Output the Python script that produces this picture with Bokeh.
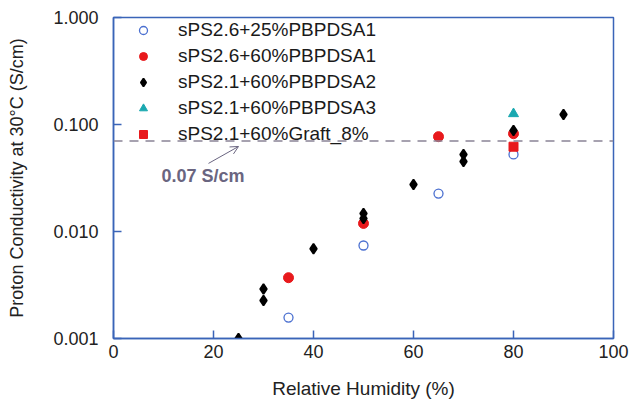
from bokeh.plotting import figure
from bokeh.models import Legend, LegendItem, Span, Label, Arrow, OpenHead, FixedTicker
from bokeh.embed import file_html
from bokeh.resources import INLINE

# Data
rh_25_a1 = [35, 50, 65, 80]
sig_25_a1 = [0.00157, 0.0074, 0.0226, 0.0525]

rh_60_a1 = [35, 50, 65, 80]
sig_60_a1 = [0.0037, 0.0119, 0.077, 0.082]

rh_21_a2 = [25, 30, 30, 40, 50, 50, 60, 70, 70, 80, 90]
sig_21_a2 = [0.001, 0.0029, 0.00226, 0.0069, 0.0147, 0.0132, 0.0275, 0.0525, 0.045, 0.088, 0.124]

rh_21_a3 = [80]
sig_21_a3 = [0.126]

rh_graft = [80]
sig_graft = [0.062]

threshold = 0.07
y_ticks = [0.001, 0.01, 0.1, 1.0]
y_tick_labels = ["0.001", "0.010", "0.100", "1.000"]
x_ticks = [0, 20, 40, 60, 80, 100]

FONT = "Liberation Sans"
BLUE = "#3a64b8"

p = figure(width=631, height=403, x_range=(0, 100), y_range=(0.001, 1.0),
           y_axis_type="log", output_backend="svg", toolbar_location=None,
           min_border_left=113, min_border_right=18, min_border_top=17, min_border_bottom=65)
p.grid.visible = False
p.background_fill_color = "white"
p.outline_line_color = BLUE
p.outline_line_width = 1.5

r1 = p.scatter(rh_25_a1, sig_25_a1, marker="circle", size=9, fill_color="white",
               line_color="#4a6fd0", line_width=1.3)
r2 = p.scatter(rh_60_a1, sig_60_a1, marker="circle", size=10, fill_color="#e8191c",
               line_color="#e8191c")
r3 = p.scatter(rh_21_a2, sig_21_a2, marker="diamond", size=10, fill_color="black",
               line_color="black", line_width=1.8)
r4 = p.scatter(rh_21_a3, sig_21_a3, marker="triangle", size=10, fill_color="#1aa8b0",
               line_color="#1aa8b0")
r5 = p.scatter(rh_graft, sig_graft, marker="square", size=9, fill_color="#e8191c",
               line_color="#e8191c")

p.add_layout(Span(location=threshold, dimension="width", line_color="#8a8496",
                  line_width=1.5, line_dash="9 7"))
p.add_layout(Label(x=9.6, y=0.0327, text="0.07 S/cm", text_font=FONT,
                   text_font_size="18px", text_font_style="bold", text_color="#6a6580",
                   text_baseline="middle"))
p.add_layout(Arrow(x_start=19.0, y_start=0.0433, x_end=25.0, y_end=0.0623,
                   line_color="#6a6580", line_width=1,
                   end=OpenHead(size=8, line_color="#6a6580", line_width=1)))

legend = Legend(items=[
    LegendItem(label="sPS2.6+25%PBPDSA1", renderers=[r1]),
    LegendItem(label="sPS2.6+60%PBPDSA1", renderers=[r2]),
    LegendItem(label="sPS2.1+60%PBPDSA2", renderers=[r3]),
    LegendItem(label="sPS2.1+60%PBPDSA3", renderers=[r4]),
    LegendItem(label="sPS2.1+60%Graft_8%", renderers=[r5]),
], location="top_left", margin=2, padding=0, spacing=4,
    glyph_width=56, glyph_height=20, label_height=20, label_standoff=7,
    label_text_font=FONT, label_text_font_size="19px", label_text_color="#1a1a1a",
    border_line_color=None, background_fill_alpha=0)
p.add_layout(legend)

for ax in (p.xaxis[0], p.yaxis[0]):
    ax.axis_line_color = BLUE
    ax.axis_line_width = 1.5
    ax.major_tick_line_color = BLUE
    ax.major_tick_line_width = 1.5
    ax.major_tick_in = 8
    ax.major_tick_out = 0
    ax.minor_tick_line_color = None
    ax.major_label_text_font = FONT
    ax.major_label_text_font_size = "18px"
    ax.major_label_text_color = "#222222"
    ax.axis_label_text_font = FONT
    ax.axis_label_text_font_style = "normal"
    ax.axis_label_text_color = "#222222"

p.xaxis.ticker = FixedTicker(ticks=x_ticks)
p.xaxis.major_label_standoff = 6
p.xaxis.axis_label = "Relative Humidity (%)"
p.xaxis.axis_label_text_font_size = "19px"
p.xaxis.axis_label_standoff = 17

p.yaxis.ticker = FixedTicker(ticks=y_ticks)
p.yaxis.major_label_overrides = {t: l for t, l in zip(y_ticks, y_tick_labels)}
p.yaxis.major_label_standoff = 15
p.yaxis.axis_label = "Proton Conductivity at 30°C (S/cm)"
p.yaxis.axis_label_text_font_size = "18px"
p.yaxis.axis_label_standoff = 23

open("out.html", "w").write(file_html(p, INLINE))
